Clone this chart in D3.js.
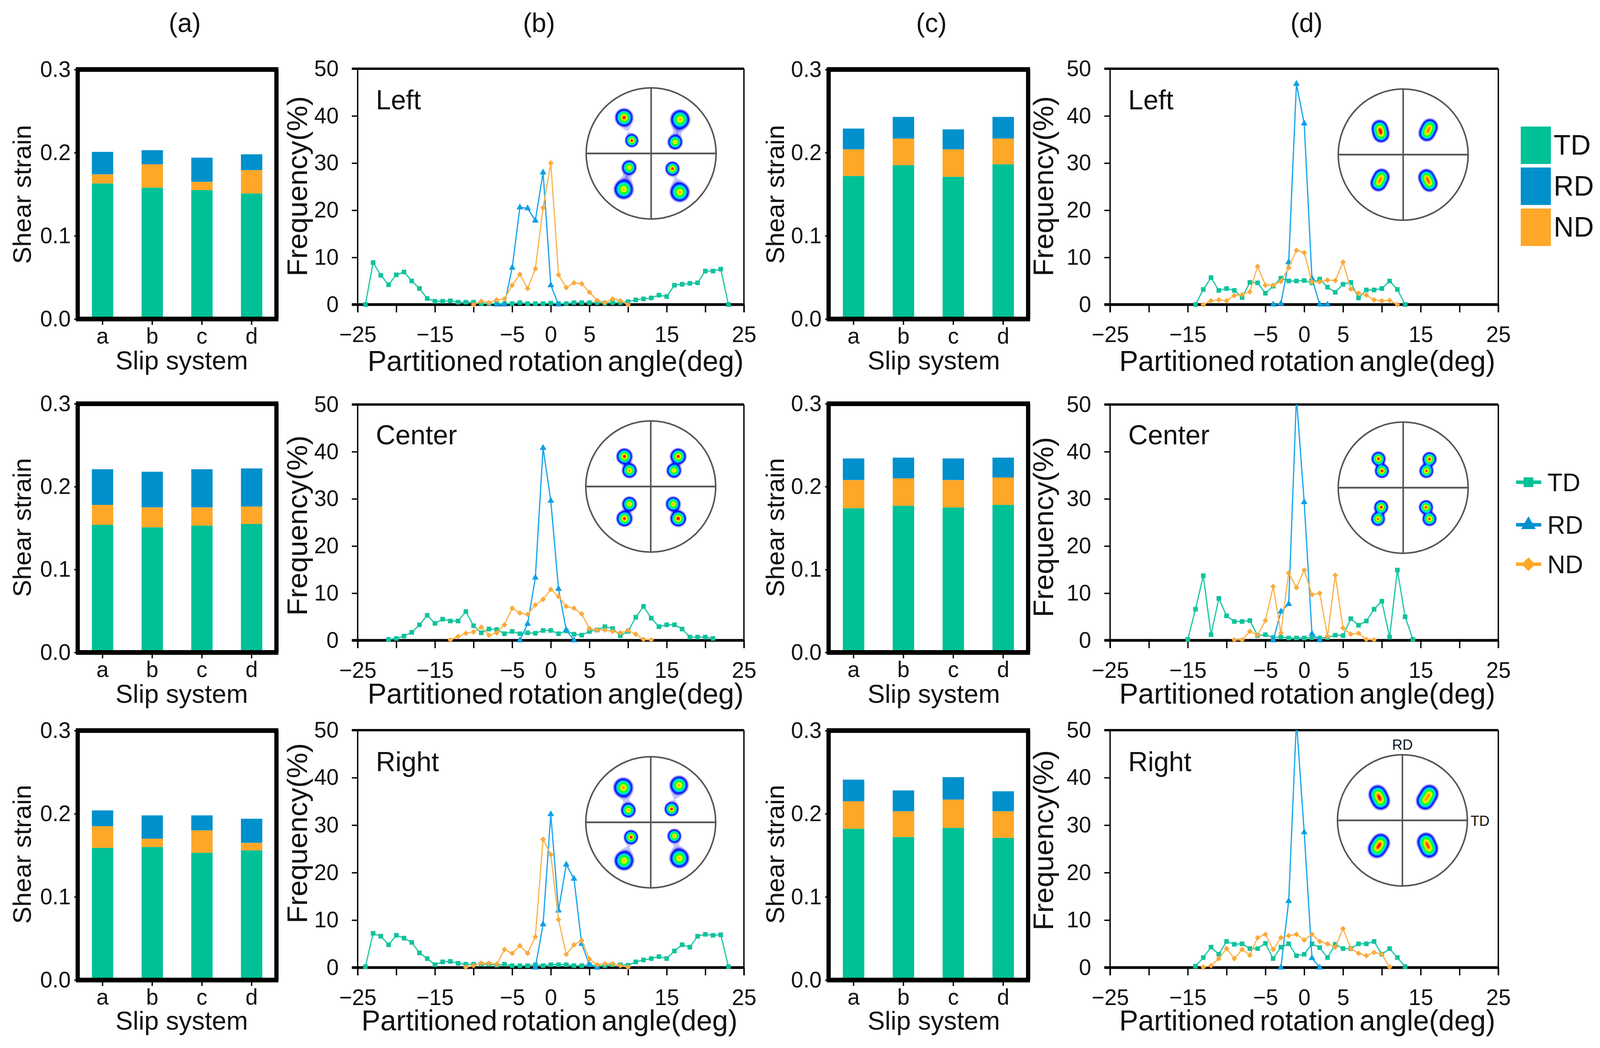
<!DOCTYPE html>
<html>
<head>
<meta charset="utf-8">
<script src="https://cdn.jsdelivr.net/npm/d3@7"></script>
<style>
  html, body { margin: 0; background: #fff; overflow: hidden; }
  svg { display: block; width: 100vw; height: 100vh; }
  text { font-family: "Liberation Sans", Arial, sans-serif; fill: #111; }
</style>
</head>
<body>
<svg id="chart" viewBox="0 0 4138 2684" preserveAspectRatio="none"></svg>
<script>
// --- data ---
var slipSystems = ["a", "b", "c", "d"];
var stackKeys = ["TD", "ND", "RD"];
var xTickValues = d3.range(-25, 26, 5);
var xTickLabels = [-25, -15, -5, 0, 5, 15, 25];
var freqTicks = [0, 10, 20, 30, 40, 50];
var strainTicks = [0, 0.1, 0.2, 0.3];

var aLeftTD = [0.163, 0.158, 0.155, 0.151];
var aLeftND = [0.011, 0.028, 0.010, 0.028];
var aLeftRD = [0.027, 0.017, 0.029, 0.019];
var aCenterTD = [0.154, 0.151, 0.153, 0.155];
var aCenterND = [0.024, 0.024, 0.022, 0.021];
var aCenterRD = [0.043, 0.043, 0.046, 0.046];
var aRightTD = [0.159, 0.160, 0.153, 0.156];
var aRightND = [0.026, 0.010, 0.027, 0.009];
var aRightRD = [0.019, 0.028, 0.018, 0.029];
var cLeftTD = [0.172, 0.185, 0.171, 0.186];
var cLeftND = [0.032, 0.032, 0.033, 0.031];
var cLeftRD = [0.025, 0.026, 0.024, 0.026];
var cCenterTD = [0.174, 0.177, 0.175, 0.178];
var cCenterND = [0.034, 0.033, 0.033, 0.033];
var cCenterRD = [0.026, 0.025, 0.026, 0.024];
var cRightTD = [0.182, 0.172, 0.183, 0.171];
var cRightND = [0.033, 0.031, 0.034, 0.032];
var cRightRD = [0.026, 0.025, 0.027, 0.024];

// frequency series, one value per degree from the start angle
var bLeftTD = [0, 8.9, 6.2, 4.2, 6.3, 6.9, 5.0, 3.4, 1.3, 0.7, 0.7, 0.8, 0.5, 0.5, 0.5, 0.2, 0.2, 0.2, 0.2, 0.2, 0.4, 0.2, 0.2, 0.2, 0.3, 0.2, 0.2, 0.4, 0.4, 0.4, 0.4, 0.3, 0.4, 0.4, 0.6, 1.0, 1.2, 1.4, 2.0, 1.7, 4.1, 4.3, 4.5, 4.6, 7.1, 7.1, 7.5, 0];
var bLeftRD = [0, 0, 7.8, 20.6, 20.4, 17.8, 28, 4.1, 0];
var bLeftND = [0, 0.7, 0.4, 1.0, 1.2, 4.1, 6.4, 3.4, 7.6, 20.5, 30, 6.3, 3.6, 4.6, 4.4, 2.6, 0.9, 0.4, 1.2, 0.8, 0];
var bCenterTD = [0.2, 0.4, 0.9, 1.7, 3.3, 5.3, 3.6, 4.5, 4.1, 4.1, 6.1, 3.1, 1.6, 2.4, 2.3, 1.4, 1.9, 1.4, 1.6, 1.5, 2.1, 2.1, 1.4, 2.0, 1.3, 1.1, 1.9, 2.2, 2.9, 2.5, 1.0, 1.9, 4.9, 7.2, 4.7, 2.9, 3.3, 3.3, 2.4, 0.7, 0.7, 0.7, 0.4];
var bCenterRD = [0, 3.5, 13.3, 40.8, 29.6, 10.9, 2.2, 0];
var bCenterND = [0.1, 0.8, 1.5, 1.8, 2.8, 1.1, 1.6, 3.3, 6.8, 5.8, 5.5, 7.5, 8.7, 10.8, 9.3, 7.2, 6.8, 5.6, 2.5, 2.2, 2.2, 1.9, 1.6, 2.1, 1.3, 0.2, 0.1];
var bRightTD = [0.2, 7.2, 6.6, 4.8, 6.8, 6.2, 5.3, 3.1, 1.9, 0.6, 1.2, 1.3, 0.9, 0.7, 0.7, 0.7, 0.7, 0.5, 0.7, 0.4, 0.4, 0.4, 0.6, 0.4, 0.6, 0.6, 0.6, 0.4, 0.4, 0.6, 0.3, 0.4, 0.6, 0.6, 0.5, 1.2, 1.6, 1.9, 2.3, 1.9, 3.5, 4.8, 4.3, 6.6, 7.0, 6.8, 6.9, 0.2];
var bRightRD = [0, 9.1, 32.3, 12, 21.7, 18.7, 5, 0.6, 0];
var bRightND = [0.1, 0.4, 0.9, 0.9, 0.7, 3.8, 3.0, 4.6, 3.0, 6.5, 27, 23.8, 10.1, 2.8, 4.8, 5.7, 1.8, 0.6, 0.8, 0.8, 0.4, 0.1];
var dLeftTD = [0, 3.2, 5.7, 3.0, 3.4, 3.0, 1.5, 4.7, 4.6, 2.4, 3.9, 5.6, 5.0, 5.0, 5.1, 4.6, 5.4, 3.7, 2.6, 4.3, 4.7, 1.4, 3.1, 3.1, 3.4, 5.0, 3.2, 0];
var dLeftRD = [0, 0.2, 9, 46.8, 38.4, 5.5, 0, 0];
var dLeftND = [0, 0.8, 1.0, 0.8, 1.9, 2.1, 2.7, 8.1, 4.1, 4.1, 4.9, 7.8, 11.5, 11, 4.8, 4.8, 5.2, 5.1, 9.0, 3.3, 2.4, 2.0, 1.0, 0.8, 0.9, 0];
var dCenterTD = [0.2, 6.6, 13.7, 1.2, 8.9, 5.2, 4.0, 4.0, 4.2, 1.0, 1.2, 0.6, 0.7, 0.5, 0.5, 0.5, 0.6, 0.5, 0.6, 1.1, 1.0, 4.6, 3.2, 4.1, 6.6, 8.3, 0.7, 14.9, 5.0, 0.2];
var dCenterRD = [0, 6.1, 7.7, 51.5, 29.3, 1.4, 0];
var dCenterND = [0.1, 0.1, 1.9, 1.1, 4.2, 11.4, 1.6, 14.3, 11.2, 14.9, 9.7, 10, 0.8, 13.8, 2.6, 1.3, 1.5, 0.2, 0.1];
var dRightTD = [0.3, 2.1, 4.3, 2.8, 5.5, 4.9, 5.0, 4.0, 4.0, 5.1, 1.9, 4.3, 5.0, 2.5, 2.8, 5.0, 4.2, 2.1, 4.9, 4.0, 4.0, 5.0, 5.0, 5.5, 2.8, 4.0, 2.1, 0.2];
var dRightRD = [0, 14, 52, 28.5, 2, 0];
var dRightND = [0.1, 0.4, 1.9, 4.0, 1.9, 3.8, 2.6, 6.3, 7.0, 3.8, 6.3, 6.7, 7.0, 5.8, 7.0, 5.5, 5.0, 4.3, 8.2, 4.0, 3.0, 2.5, 3.2, 2.8, 0.1];

// pole figure peaks: [offset x, offset y, strength, spread], radius is 168
var poleBLeft = [[-71, -93, 0.97, 9.5], [-51, -34, 0.97, 7], [74, -88, 0.84, 10.5], [61, -30, 0.82, 8], [-58, 35, 0.82, 8], [-72, 91, 0.82, 10.5], [54, 38, 0.97, 7.5], [73, 98, 0.84, 10.5], [-62, -62, 0.03, 12], [67, -58, 0.04, 12], [-65, 63, 0.04, 12], [64, 68, 0.03, 12]];
var poleBCenter = [[-69, -78, 0.97, 8.5], [-56, -42, 0.88, 8], [70, -78, 0.97, 8.5], [59, -42, 0.82, 8], [-56, 44, 0.84, 8], [-69, 81, 0.97, 8.5], [57, 44, 0.84, 8], [70, 81, 1.0, 8.5]];
var poleBRight = [[-72, -90, 0.86, 10.5], [-59, -32, 0.84, 8], [72, -96, 0.84, 10], [53, -35, 0.97, 7.5], [-52, 37, 0.97, 7.5], [-70, 97, 0.82, 10.5], [60, 34, 0.84, 7.5], [73, 91, 0.82, 10.5], [-65, -60, 0.03, 12], [62, -65, 0.03, 12], [-61, 67, 0.03, 12], [66, 62, 0.03, 12]];
var poleDLeft = [[-62, -69, 0.74, 9], [-58, -53, 0.74, 9], [68, -72, 0.72, 9], [60, -56, 0.72, 9], [-57, 56, 0.72, 9], [-65, 72, 0.72, 9], [59, 57, 0.74, 9], [67, 73, 0.74, 9]];
var poleDCenter = [[-65, -75, 0.97, 7.5], [-56, -44, 0.97, 7.5], [67, -74, 0.97, 7.5], [59, -44, 0.94, 7.5], [-58, 49, 0.97, 7.5], [-66, 79, 0.92, 7.5], [58, 49, 0.94, 7.5], [67, 79, 0.94, 7.5]];
var poleDRight = [[-65, -68, 0.74, 10], [-57, -51, 0.74, 10], [69, -69, 0.74, 10], [58, -51, 0.74, 10], [-57, 56, 0.74, 10], [-67, 72, 0.74, 10], [60, 54, 0.74, 10], [68, 72, 0.74, 10]];

// --- layout ---
var rows = [
  { name: "Left", barTop: 178, barBottom: 817, lineTop: 176, lineZero: 780, slipY: 946, partY: 950, strainY: 498, freqY: 477, nameY: 280 },
  { name: "Center", barTop: 1034, barBottom: 1671, lineTop: 1036, lineZero: 1640, slipY: 1800, partY: 1802, strainY: 1351, freqY: 1346, nameY: 1138 },
  { name: "Right", barTop: 1871, barBottom: 2510, lineTop: 1870, lineZero: 2478, slipY: 2637, partY: 2639, strainY: 2188, freqY: 2134, nameY: 1975 }
];

var barPanels = [
  { x0: 201, x1: 715, titleX: 470, strainX: 57, series: [[aLeftTD, aLeftND, aLeftRD], [aCenterTD, aCenterND, aCenterRD], [aRightTD, aRightND, aRightRD]] },
  { x0: 2143, x1: 2659, titleX: 2415, strainX: 2005, series: [[cLeftTD, cLeftND, cLeftRD], [cCenterTD, cCenterND, cCenterRD], [cRightTD, cRightND, cRightRD]] }
];

var linePanels = [
  { x0: 925, x1: 1924, nameX: 972, freqX: 772, partX: [1437, 1437, 1421],
    poleX: [1684, 1683, 1683], poleY: [393, 1246, 2106],
    poles: [poleBLeft, poleBCenter, poleBRight],
    series: [
      [{ key: "TD", start: -24, values: bLeftTD }, { key: "RD", start: -7, values: bLeftRD }, { key: "ND", start: -10, values: bLeftND }],
      [{ key: "TD", start: -21, values: bCenterTD }, { key: "RD", start: -4, values: bCenterRD }, { key: "ND", start: -13, values: bCenterND }],
      [{ key: "TD", start: -24, values: bRightTD }, { key: "RD", start: -2, values: bRightRD }, { key: "ND", start: -11, values: bRightND }]
    ] },
  { x0: 2871, x1: 3875, nameX: 2918, freqX: 2702, partX: [3381, 3381, 3381],
    poleX: [3629, 3629, 3627], poleY: [396, 1249, 2101],
    poles: [poleDLeft, poleDCenter, poleDRight],
    freqYs: [477, 1350, 2152],
    series: [
      [{ key: "TD", start: -14, values: dLeftTD }, { key: "RD", start: -4, values: dLeftRD }, { key: "ND", start: -13, values: dLeftND }],
      [{ key: "TD", start: -15, values: dCenterTD }, { key: "RD", start: -4, values: dCenterRD }, { key: "ND", start: -9, values: dCenterND }],
      [{ key: "TD", start: -14, values: dRightTD }, { key: "RD", start: -3, values: dRightRD }, { key: "ND", start: -13, values: dRightND }]
    ] }
];

var barColor = { TD: "#00c096", RD: "#0090cc", ND: "#ffa726" };
var lineColor = { TD: "#20c8a4", RD: "#1aa6ec", ND: "#fcb44e" };
var markColor = { TD: "#10c29c", RD: "#0e9fe4", ND: "#fbaa3c" };

var TICK_FONT = 57;

var svg = d3.select("#chart");
var defs = svg.append("defs");

function axisStyle(g, size) {
  g.select(".domain").remove();
  g.selectAll("line").attr("stroke", "#000").attr("stroke-width", 3.5);
  g.selectAll("text").attr("font-size", size);
}

function titleText(x, y, label, size, rotate) {
  var t = svg.append("text").attr("text-anchor", "middle").attr("font-size", size).text(label);
  if (rotate) {
    t.attr("transform", "translate(" + x + "," + y + ") rotate(-90)");
  } else {
    t.attr("x", x).attr("y", y);
  }
  return t;
}

// stacked bars
barPanels.forEach(function (panel) {
  rows.forEach(function (row, r) {
    var x = d3.scaleBand().domain(slipSystems).range([panel.x0, panel.x1]).paddingInner(0.57).paddingOuter(0.285);
    var y = d3.scaleLinear().domain([0, 0.3]).range([row.barBottom, row.barTop]);
    var table = slipSystems.map(function (s, i) {
      return { slip: s, TD: panel.series[r][0][i], ND: panel.series[r][1][i], RD: panel.series[r][2][i] };
    });
    var g = svg.append("g");

    g.selectAll("g.layer")
      .data(d3.stack().keys(stackKeys)(table))
      .join("g")
      .attr("class", "layer")
      .attr("fill", function (d) { return barColor[d.key]; })
      .selectAll("rect")
      .data(function (d) { return d; })
      .join("rect")
      .attr("x", function (d) { return x(d.data.slip); })
      .attr("width", x.bandwidth())
      .attr("y", function (d) { return y(d[1]); })
      .attr("height", function (d) { return y(d[0]) - y(d[1]); });

    g.append("g")
      .attr("transform", "translate(" + panel.x0 + ",0)")
      .call(d3.axisLeft(y).tickValues(strainTicks).tickFormat(d3.format(".1f")).tickSize(9).tickPadding(9))
      .call(axisStyle, TICK_FONT);
    g.append("g")
      .attr("transform", "translate(0," + row.barBottom + ")")
      .call(d3.axisBottom(x).tickSize(15).tickPadding(8))
      .call(axisStyle, TICK_FONT);

    // heavy frame
    [[panel.x0, row.barTop, panel.x0, row.barBottom, 11], [panel.x1, row.barTop, panel.x1, row.barBottom, 11],
     [panel.x0 - 5, row.barTop, panel.x1 + 5, row.barTop, 12], [panel.x0 - 5, row.barBottom, panel.x1 + 5, row.barBottom, 12]]
      .forEach(function (s) {
        g.append("line").attr("x1", s[0]).attr("y1", s[1]).attr("x2", s[2]).attr("y2", s[3])
          .attr("stroke", "#000").attr("stroke-width", s[4]);
      });

    titleText(panel.titleX, row.slipY, "Slip system", 67);
    titleText(panel.strainX + 23, row.strainY, "Shear strain", 66, true);
  });
});

var symbols = {
  TD: d3.symbol().type(d3.symbolSquare).size(140)(),
  RD: d3.symbol().type(d3.symbolTriangle).size(130)(),
  ND: d3.symbol().type(d3.symbolSquare).size(105)()
};

// frequency line panels
linePanels.forEach(function (panel, p) {
  rows.forEach(function (row, r) {
    var x = d3.scaleLinear().domain([-25, 25]).range([panel.x0, panel.x1]);
    var y = d3.scaleLinear().domain([0, 50]).range([row.lineZero, row.lineTop]);
    var g = svg.append("g");
    var clipId = "clip-" + p + "-" + r;

    defs.append("clipPath").attr("id", clipId).append("rect")
      .attr("x", panel.x0 - 30).attr("y", row.lineTop)
      .attr("width", panel.x1 - panel.x0 + 60).attr("height", row.lineZero - row.lineTop + 30);

    // thin sides, heavy top and zero line
    g.append("line").attr("x1", panel.x1).attr("x2", panel.x1).attr("y1", row.lineTop).attr("y2", row.lineZero + 20)
      .attr("stroke", "#000").attr("stroke-width", 3.5);
    g.append("line").attr("x1", panel.x0).attr("x2", panel.x0).attr("y1", row.lineTop).attr("y2", row.lineZero + 20)
      .attr("stroke", "#000").attr("stroke-width", 3.5);
    g.append("g")
      .attr("transform", "translate(" + panel.x0 + ",0)")
      .call(d3.axisLeft(y).tickValues(freqTicks).tickSize(15).tickPadding(34))
      .call(axisStyle, TICK_FONT);
    g.append("g")
      .attr("transform", "translate(0," + row.lineZero + ")")
      .call(d3.axisBottom(x).tickValues(xTickValues).tickSize(20).tickPadding(36).tickFormat(function (d) {
        return xTickLabels.indexOf(d) >= 0 ? String(d).replace("-", "\u2212") : "";
      }))
      .call(axisStyle, TICK_FONT);
    g.append("line").attr("x1", panel.x0 - 15).attr("x2", panel.x1).attr("y1", row.lineTop).attr("y2", row.lineTop)
      .attr("stroke", "#000").attr("stroke-width", 6);
    g.append("line").attr("x1", panel.x0 - 15).attr("x2", panel.x1).attr("y1", row.lineZero).attr("y2", row.lineZero)
      .attr("stroke", "#000").attr("stroke-width", 7);

    var line = d3.line()
      .x(function (d) { return x(d[0]); })
      .y(function (d) { return y(d[1]); });
    var plot = g.append("g").attr("clip-path", "url(#" + clipId + ")");

    panel.series[r].forEach(function (s) {
      var pts = s.values.map(function (v, i) { return [s.start + i, v]; });
      plot.append("path").attr("d", line(pts)).attr("fill", "none")
        .attr("stroke", lineColor[s.key]).attr("stroke-width", 3.2);
      plot.selectAll("path.mark-" + s.key)
        .data(pts)
        .join("path")
        .attr("class", "mark-" + s.key)
        .attr("d", symbols[s.key])
        .attr("fill", markColor[s.key])
        .attr("transform", function (d) {
          return "translate(" + x(d[0]) + "," + y(d[1]) + ")" + (s.key === "ND" ? " rotate(45)" : "");
        });
    });

    drawPole(g, panel.poleX[r], panel.poleY[r], panel.poles[r]);

    svg.append("text").attr("x", panel.nameX).attr("y", row.nameY).attr("font-size", 70).text(row.name);
    titleText(panel.partX[r], row.partY, "Partitioned rotation angle(deg)", 73.5).attr("word-spacing", -8);
    titleText(panel.freqX + 22, panel.freqYs ? panel.freqYs[r] : row.freqY, "Frequency(%)", 73.5, true);
  });
});

// pole figure, density contours of the peaks inside the stereographic circle
function drawPole(parent, cx, cy, peaks) {
  var R = 168, step = 2, half = 170;
  var n = (half * 2) / step;
  var field = new Float64Array(n * n);
  for (var j = 0; j < n; j++) {
    for (var i = 0; i < n; i++) {
      var px = i * step - half, py = j * step - half, sum = 0;
      peaks.forEach(function (k) {
        var dx = px - k[0], dy = py - k[1];
        sum += k[2] * Math.exp(-(dx * dx + dy * dy) / (2 * k[3] * k[3]));
      });
      field[j * n + i] = sum;
    }
  }
  var jet = d3.scaleLinear()
    .domain([0.012, 0.09, 0.14, 0.26, 0.5, 0.72, 0.84, 0.94, 1.2])
    .range(["#ffffff", "#0000f4", "#0040ff", "#00e8e8", "#00ff20", "#ffff00", "#ff9800", "#ff0000", "#b00000"])
    .clamp(true);
  var levels = d3.range(0.012, 1.3, 0.018);
  var contours = d3.contours().size([n, n]).smooth(true).thresholds(levels)(field);
  var g = parent.append("g").attr("transform", "translate(" + cx + "," + cy + ")");

  g.append("circle").attr("r", R).attr("fill", "#fff");
  g.append("g").attr("transform", "translate(" + (-half) + "," + (-half) + ") scale(" + step + ")")
    .selectAll("path")
    .data(contours)
    .join("path")
    .attr("d", d3.geoPath())
    .attr("fill", function (d) { return jet(d.value); });
  g.append("circle").attr("r", R).attr("fill", "none").attr("stroke", "#555").attr("stroke-width", 4);
  g.append("line").attr("x1", -R).attr("x2", R).attr("stroke", "#555").attr("stroke-width", 4.5);
  g.append("line").attr("y1", -R).attr("y2", R).attr("stroke", "#555").attr("stroke-width", 4);
}

// panel letters
[["(a)", 478], ["(b)", 1394], ["(c)", 2409], ["(d)", 3379]].forEach(function (d) {
  titleText(d[1], 82, d[0], 68);
});

// direction labels on the last pole figure
svg.append("text").attr("x", 3627).attr("y", 1920).attr("text-anchor", "middle").attr("font-size", 37).text("RD");
svg.append("text").attr("x", 3803).attr("y", 2115).attr("font-size", 37).text("TD");

// bar legend
var legendBar = svg.append("g");
legendBar.selectAll("rect")
  .data([["TD", 324], ["RD", 429], ["ND", 534]])
  .join("rect")
  .attr("x", 3933).attr("width", 78).attr("height", 96)
  .attr("y", function (d) { return d[1]; })
  .attr("fill", function (d) { return barColor[d[0]]; });
legendBar.selectAll("text")
  .data([["TD", 324], ["RD", 429], ["ND", 534]])
  .join("text")
  .attr("x", 4018).attr("font-size", 72)
  .attr("y", function (d) { return d[1] + 72; })
  .text(function (d) { return d[0]; });

// line legend
var legendLine = svg.append("g");
[["TD", 1235, d3.symbolSquare, 0], ["RD", 1344, d3.symbolTriangle, 0], ["ND", 1445, d3.symbolSquare, 45]].forEach(function (d) {
  legendLine.append("line").attr("x1", 3921).attr("x2", 3986).attr("y1", d[1]).attr("y2", d[1])
    .attr("stroke", barColor[d[0]]).attr("stroke-width", 9);
  legendLine.append("path").attr("d", d3.symbol().type(d[2]).size(620)())
    .attr("fill", barColor[d[0]])
    .attr("transform", "translate(3953," + d[1] + ") rotate(" + d[3] + ")");
  legendLine.append("text").attr("x", 4002).attr("y", d[1] + 23).attr("font-size", 64).text(d[0]);
});
</script>
</body>
</html>
